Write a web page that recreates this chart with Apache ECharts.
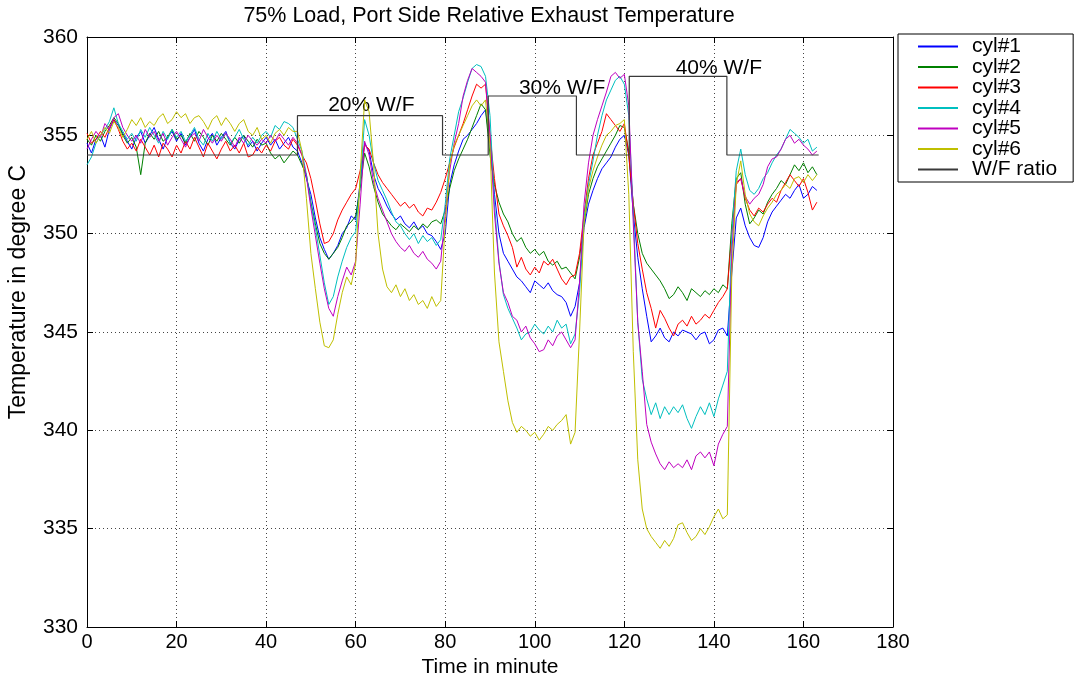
<!DOCTYPE html>
<html>
<head>
<meta charset="utf-8">
<script src="https://cdn.jsdelivr.net/npm/echarts@6/dist/echarts.min.js"></script>
<style>
  html, body { margin: 0; padding: 0; background: #ffffff; }
  #chart { width: 1081px; height: 673px; }
</style>
</head>
<body>
<div id="chart"></div>
<script>
// Relative exhaust temperature per cylinder, one reading per minute (t = 0 .. 163)
const minutes = Array.from({ length: 164 }, (_, i) => i);

const cyl1 = [
  354.6, 354.1, 354.8, 355.0, 354.4, 355.3, 355.8, 355.5, 355.1, 354.7,
  354.3, 354.9, 355.2, 354.6, 355.0, 355.4, 354.8, 354.3, 354.9, 355.2,
  354.7, 355.1, 354.5, 354.9, 355.3, 354.6, 354.2, 354.8, 355.1, 354.5,
  354.9, 355.2, 354.6, 354.3, 354.8, 355.0, 354.4, 354.7, 354.2, 354.6,
  354.9, 354.5, 354.8, 354.3, 354.6, 354.9, 354.4,
  354.2, 353.6, 352.8, 352.0, 350.8, 349.8, 349.2, 348.7, 349.0, 349.4, 350.0, 350.3, 350.9, 350.7, 352.6,
  354.6, 354.2, 353.0, 352.3, 351.9, 351.4, 351.0, 350.7, 350.9, 350.5, 350.3, 350.6, 350.2, 350.4, 350.0, 349.9, 349.6, 349.2,
  350.0, 352.5, 353.5, 354.2, 354.8, 355.0, 355.3, 355.6, 356.0, 356.3,
  354.6, 352.0, 350.0, 349.0, 348.6, 348.2, 347.8, 347.6, 347.3, 347.0, 347.6, 347.4, 347.2, 347.5, 347.1, 346.9, 346.8, 346.5, 345.8, 346.3,
  347.5, 350.3, 351.5, 352.2, 352.8, 353.3, 353.6, 353.9, 354.4, 354.8, 355.0,
  354.0, 351.0, 348.8, 347.2, 345.8, 344.5, 344.8, 345.2, 344.7, 344.5, 345.0, 344.8, 345.1, 345.0, 344.9, 344.6, 344.9, 345.0, 344.4, 344.6, 345.1, 345.2, 344.8,
  348.0, 350.8, 351.3, 350.4, 349.8, 349.4, 349.3, 349.8, 350.6, 351.1, 351.4, 351.7, 352.0, 351.8, 352.2, 352.5, 351.8, 352.0, 352.4, 352.2
];

const cyl2 = [
  354.8, 354.5, 355.0, 354.7, 355.2, 355.5, 355.9, 355.6, 355.0, 354.6,
  354.9, 354.4, 353.0, 354.6, 355.1, 354.8, 355.2, 354.7, 354.9, 355.3,
  354.8, 355.0, 354.6, 355.1, 354.7, 355.2, 354.9, 354.5, 355.0, 354.7,
  355.1, 354.8, 354.5, 354.9, 354.6, 355.0, 354.7, 354.4, 354.8, 354.5,
  354.6, 354.1, 353.8, 354.0, 353.6, 353.9, 354.2,
  354.0, 353.5, 353.0, 351.6, 350.5, 349.5, 349.0, 348.7, 349.0, 349.3, 349.8, 350.4, 350.6, 350.9, 352.3,
  354.1, 353.4, 352.4, 351.6, 351.0, 350.7, 350.4, 350.2, 350.5, 350.3, 350.1, 350.4, 350.2, 350.5, 350.3, 350.6, 350.7, 350.5,
  351.2, 352.3, 353.2, 353.8, 354.3, 354.8, 355.4, 356.0, 356.6, 356.3,
  354.0, 352.5, 351.6, 351.0, 350.6, 350.0, 349.6, 349.8, 349.3, 349.0, 349.2, 348.9, 349.1, 348.6, 348.4, 348.6, 348.2, 348.3, 348.0, 347.7,
  348.8, 350.5, 352.0, 352.8, 353.4, 353.8, 354.2, 354.6, 355.0, 355.5, 355.4,
  354.2, 351.5, 350.0, 349.0, 348.5, 348.2, 347.9, 347.6, 347.2, 346.7, 346.9, 347.3, 347.0, 346.6, 347.2, 347.0, 346.8, 347.1, 346.9, 347.2, 347.0, 347.4, 347.2,
  350.5, 352.8, 353.1, 351.5, 350.5, 350.8, 351.2, 351.0, 351.6, 352.0, 352.3, 352.7, 352.5, 353.0, 353.5, 353.2, 353.6, 353.1, 353.4, 353.0
];

const cyl3 = [
  355.1, 354.6, 354.8, 355.2, 354.9, 355.4, 355.8, 355.3, 354.7, 354.3,
  354.6, 354.2, 354.8, 354.4, 354.0, 354.5, 353.9, 354.6, 354.3, 353.9,
  354.5, 354.1, 354.7, 354.3, 354.9, 354.4, 353.9, 354.6, 354.2, 353.8,
  354.3, 354.7, 354.2, 354.5, 354.1, 354.6, 353.9, 354.0, 354.4, 354.1,
  354.5, 354.2, 354.7, 354.9, 354.5, 354.3, 354.8,
  354.5, 354.0, 353.6, 352.8, 351.7, 350.5, 349.5, 349.6, 350.0, 350.7, 351.2, 351.6, 352.0, 352.3, 353.2,
  354.5, 354.3, 353.6, 353.0, 352.6, 352.3, 352.0, 351.7, 351.4, 351.6, 351.3, 351.5, 351.1, 350.9, 351.3, 351.2, 351.6, 352.1,
  352.8, 353.6, 354.4, 355.0, 355.6, 356.3, 357.0, 357.6, 357.4, 357.6,
  355.0, 352.8, 351.0, 350.4, 349.9, 349.3, 348.3, 348.8, 348.2, 347.9, 348.3, 348.0, 348.6, 348.4, 348.7, 348.2, 347.7, 347.4, 347.8, 347.9,
  349.0, 351.0, 352.8, 354.0, 354.6, 355.2, 356.1, 355.8, 355.5, 355.2, 355.6,
  354.0, 351.5, 349.5, 348.2, 347.0, 346.2, 345.2, 346.1, 345.7, 345.2, 344.8, 345.4, 345.6, 345.3, 345.8, 345.4, 345.6, 345.9, 345.7, 346.1, 346.5, 346.8, 347.2,
  350.0, 352.5, 352.8, 351.8, 351.2, 350.9, 351.3, 351.1, 351.5, 351.8, 351.6, 352.2, 352.6, 353.0, 352.7, 352.4, 352.8, 352.1, 351.2, 351.6
];

const cyl4 = [
  353.5, 353.9, 354.6, 355.0, 355.3, 355.7, 356.4, 355.6, 355.2, 354.8,
  355.1, 354.7, 355.3, 354.9, 355.4, 355.0, 354.6, 355.2, 354.8, 355.3,
  354.9, 355.2, 354.7, 355.0, 355.4, 354.8, 354.5, 355.1, 354.7, 355.2,
  354.8, 355.1, 354.6, 354.9, 355.3, 354.8, 354.5, 354.9, 354.6, 355.0,
  355.2, 354.9, 355.5, 355.3, 355.7, 355.6, 355.4,
  354.8, 354.2, 353.0, 351.5, 350.3, 348.9, 347.5, 346.4, 346.8, 347.8, 348.6, 349.3, 349.8, 350.1, 352.5,
  355.8, 355.0, 353.6, 352.7, 352.2, 351.7, 351.1, 350.6, 350.4, 350.0, 349.7, 350.0, 349.5, 349.9, 349.6, 349.8, 349.4, 349.7,
  351.5, 353.8, 355.0, 356.2, 356.9, 357.7, 358.4, 358.6, 358.5, 358.0,
  356.0, 351.5, 348.6, 346.9, 346.2, 345.7, 345.2, 344.6, 344.9, 345.0, 345.4, 345.1, 344.9, 345.3, 345.0, 345.6, 345.2, 345.4, 344.4, 344.9,
  347.0, 350.8, 352.5, 353.7, 355.0, 356.0, 356.8, 357.3, 357.8, 358.0, 357.6,
  356.0, 351.0, 345.5, 342.6, 341.6, 340.8, 341.4, 340.6, 341.2, 340.8, 341.2, 340.9, 341.3, 340.6, 340.1, 340.7, 341.2, 340.8, 341.4, 340.7, 341.6, 342.3, 343.0,
  350.0, 353.2, 354.3, 353.0, 352.2, 352.0, 352.3, 352.8, 353.1, 353.6, 354.0, 354.3, 354.8, 355.3, 355.1, 354.9, 354.6, 354.8, 354.2, 354.4
];

const cyl5 = [
  354.3, 354.8, 355.2, 354.9, 355.6, 355.3, 355.9, 356.1, 355.4, 355.0,
  354.7, 355.0, 354.6, 355.3, 354.9, 355.2, 354.7, 355.1, 354.5, 354.9,
  355.2, 354.8, 354.4, 354.9, 355.1, 354.7, 355.3, 354.9, 354.6, 355.0,
  354.7, 355.1, 354.8, 354.4, 354.9, 354.6, 355.0, 354.7, 354.5, 354.8,
  354.6, 355.0, 354.7, 355.1, 354.8, 354.5, 354.9,
  354.6, 354.0, 352.9, 351.3, 349.9, 348.5, 347.2, 346.2, 345.8, 346.8, 347.6, 348.3, 347.9, 348.6, 351.5,
  354.7, 354.0, 352.6, 351.8, 351.2, 350.6, 350.0, 349.6, 349.3, 349.1, 349.4, 349.0, 348.8, 349.1, 348.7, 348.5, 348.2, 348.6,
  351.0, 353.2, 354.6, 355.6, 357.0, 357.8, 358.4, 358.2, 358.0, 357.7,
  355.0, 351.0, 348.5, 347.0, 346.5, 345.8, 345.6, 345.0, 345.3, 344.7, 344.4, 344.0, 344.1, 344.6, 344.3, 344.8, 345.0, 344.6, 344.2, 344.6,
  347.5, 351.5, 353.6, 355.0, 355.8, 356.5, 357.2, 358.0, 358.2, 357.9, 358.1,
  356.5, 350.5, 345.5, 343.0, 340.3, 339.4, 338.8, 338.3, 338.0, 338.4, 338.1, 338.3, 338.1, 338.5, 338.0, 338.7, 338.9, 338.6, 338.9, 338.2, 339.3, 339.8, 340.2,
  349.0, 352.6, 352.8, 351.9, 351.5, 351.8, 352.0, 352.5, 353.4, 353.8, 353.9, 354.3, 354.8, 355.0, 354.6, 354.8, 354.5, 354.3, 354.0, 354.2
];

const cyl6 = [
  354.8, 355.2, 354.6, 355.0, 355.4, 355.1, 355.7, 355.4, 354.9, 355.3,
  355.8, 355.5, 355.9, 355.4, 355.7, 355.5, 355.9, 356.1, 355.6, 355.8,
  356.2, 355.9, 356.1, 355.6, 355.9, 356.0, 355.7, 355.3, 355.8, 356.0,
  355.5, 355.9, 355.6, 355.2, 355.6, 355.8, 355.2, 355.0, 355.4, 354.8,
  355.0, 354.6, 355.1, 355.3, 355.0, 355.4, 355.2,
  355.2, 354.2, 351.8, 349.0, 347.2, 345.5, 344.3, 344.2, 344.6, 345.9, 347.0, 347.8, 347.4, 348.5, 353.0,
  356.8, 356.2, 353.5, 350.0, 348.2, 347.3, 347.0, 347.4, 346.8, 347.2, 346.6, 346.9, 346.4, 346.6, 346.2, 346.8, 346.3, 346.6,
  350.5, 353.5, 354.5, 355.0, 355.5, 356.0, 356.5, 356.8, 356.5, 356.8,
  354.5, 348.0, 344.5, 343.0, 341.5, 340.4, 339.9, 340.2, 340.0, 339.7, 339.9, 339.5, 339.8, 340.2, 340.0, 340.3, 340.5, 340.8, 339.3, 339.9,
  345.0, 350.5, 352.3, 353.2, 353.9, 354.5, 355.0, 355.2, 355.5, 355.6, 355.8,
  352.0, 344.0, 338.5, 336.0, 335.0, 334.6, 334.3, 334.0, 334.4, 334.1, 334.5, 335.2, 335.3, 334.8, 334.4, 334.6, 335.0, 334.7, 335.1, 335.6, 336.0, 335.5, 335.7,
  348.0, 352.5, 353.7, 352.0, 351.0, 350.6, 350.4, 350.9, 351.3, 351.6, 352.0, 352.2, 352.5, 352.3, 352.8, 352.9, 352.6, 353.0, 352.7, 353.0
];

// Water/fuel ratio steps (drawn on the temperature scale)
const wfTimes  = [0, 47, 47, 79.4, 79.4, 89.6, 89.6, 109.3, 109.3, 121.1, 121.1, 142.9, 142.9, 163.4];
const wfValues = [354, 354, 356, 356, 354, 354, 357, 357, 354, 354, 358, 358, 354, 354];

// Step annotations
const stepLabels = ['20% W/F', '30% W/F', '40% W/F'];
const stepLabelTimes = [63.5, 106.1, 141.1];
const stepLabelValues = [356.55, 357.42, 358.43];

const seriesNames = ['cyl#1', 'cyl#2', 'cyl#3', 'cyl#4', 'cyl#5', 'cyl#6', 'W/F ratio'];
const seriesColors = ['#0000ff', '#008000', '#ff0000', '#00bfbf', '#bf00bf', '#bfbf00', '#3a3a3a'];

const xTicks = { min: 0, max: 180, step: 20 };
const yTicks = { min: 330, max: 360, step: 5 };

const FONT = '"Liberation Sans", Arial, Helvetica, sans-serif';

const cylinders = [cyl1, cyl2, cyl3, cyl4, cyl5, cyl6];

const series = cylinders.map((vals, k) => ({
  name: seriesNames[k],
  type: 'line',
  data: minutes.map((t, i) => [t, vals[i]]),
  symbol: 'none',
  lineStyle: { width: 1, color: seriesColors[k] },
  itemStyle: { color: seriesColors[k] },
  emphasis: { disabled: true },
  z: 2 + k
}));

series.push({
  name: seriesNames[6],
  type: 'line',
  data: wfTimes.map((t, i) => [t, wfValues[i]]),
  symbol: 'none',
  lineStyle: { width: 1.2, color: seriesColors[6] },
  itemStyle: { color: seriesColors[6] },
  emphasis: { disabled: true },
  z: 10,
  markPoint: {
    symbol: 'rect',
    symbolSize: 1,
    itemStyle: { color: 'rgba(0,0,0,0)' },
    label: {
      show: true,
      position: 'inside',
      formatter: '{b}',
      color: '#000',
      fontSize: 21,
      fontFamily: FONT
    },
    data: stepLabels.map((s, i) => ({ name: s, coord: [stepLabelTimes[i], stepLabelValues[i]] }))
  }
});

function valueAxis(range, pos, primary) {
  return {
    type: 'value',
    position: pos,
    min: range.min,
    max: range.max,
    interval: range.step,
    axisLine: { show: true, onZero: false, lineStyle: { color: '#000', width: 1 } },
    axisTick: { show: true, inside: true, length: 6, lineStyle: { color: '#000', width: 1 } },
    axisLabel: primary
      ? { show: true, color: '#000', fontSize: pos === 'left' ? 21 : 20, fontFamily: FONT, margin: pos === 'left' ? 9 : 5 }
      : { show: false },
    splitLine: primary
      ? { show: true, lineStyle: { color: '#444', width: 1, type: [1, 3] } }
      : { show: false }
  };
}

const xMain = valueAxis(xTicks, 'bottom', true);
xMain.name = 'Time in minute';
xMain.nameLocation = 'middle';
xMain.nameGap = 25;
xMain.nameTextStyle = { color: '#000', fontSize: 21, fontFamily: FONT };

const chart = echarts.init(document.getElementById('chart'), null, { renderer: 'canvas' });

chart.setOption({
  animation: false,
  backgroundColor: '#ffffff',
  grid: { left: 87, right: 188, top: 37, bottom: 46, containLabel: false, outerBoundsMode: 'none' },
  xAxis: [xMain, valueAxis(xTicks, 'top', false)],
  yAxis: [valueAxis(yTicks, 'left', true), valueAxis(yTicks, 'right', false)],
  legend: {
    orient: 'vertical',
    left: 898,
    top: 34,
    padding: [2, 16, 2, 20],
    itemGap: -0.5,
    itemWidth: 40,
    itemHeight: 2,
    icon: 'rect',
    borderColor: '#000',
    borderWidth: 1,
    backgroundColor: '#fff',
    selectedMode: false,
    textStyle: { color: '#000', fontSize: 21, fontFamily: FONT, padding: [0, 0, 0, 9] },
    data: seriesNames
  },
  graphic: [
    {
      type: 'text',
      x: 489,
      y: 16,
      style: {
        text: '75% Load, Port Side Relative Exhaust Temperature',
        fill: '#000',
        fontSize: 21.5,
        fontFamily: FONT,
        align: 'center',
        verticalAlign: 'middle'
      }
    },
    {
      type: 'text',
      x: 19,
      y: 292,
      rotation: Math.PI / 2,
      style: {
        text: 'Temperature in degree C',
        fill: '#000',
        fontSize: 23,
        fontFamily: FONT,
        align: 'center',
        verticalAlign: 'middle'
      }
    }
  ],
  series: series
});
</script>
</body>
</html>
